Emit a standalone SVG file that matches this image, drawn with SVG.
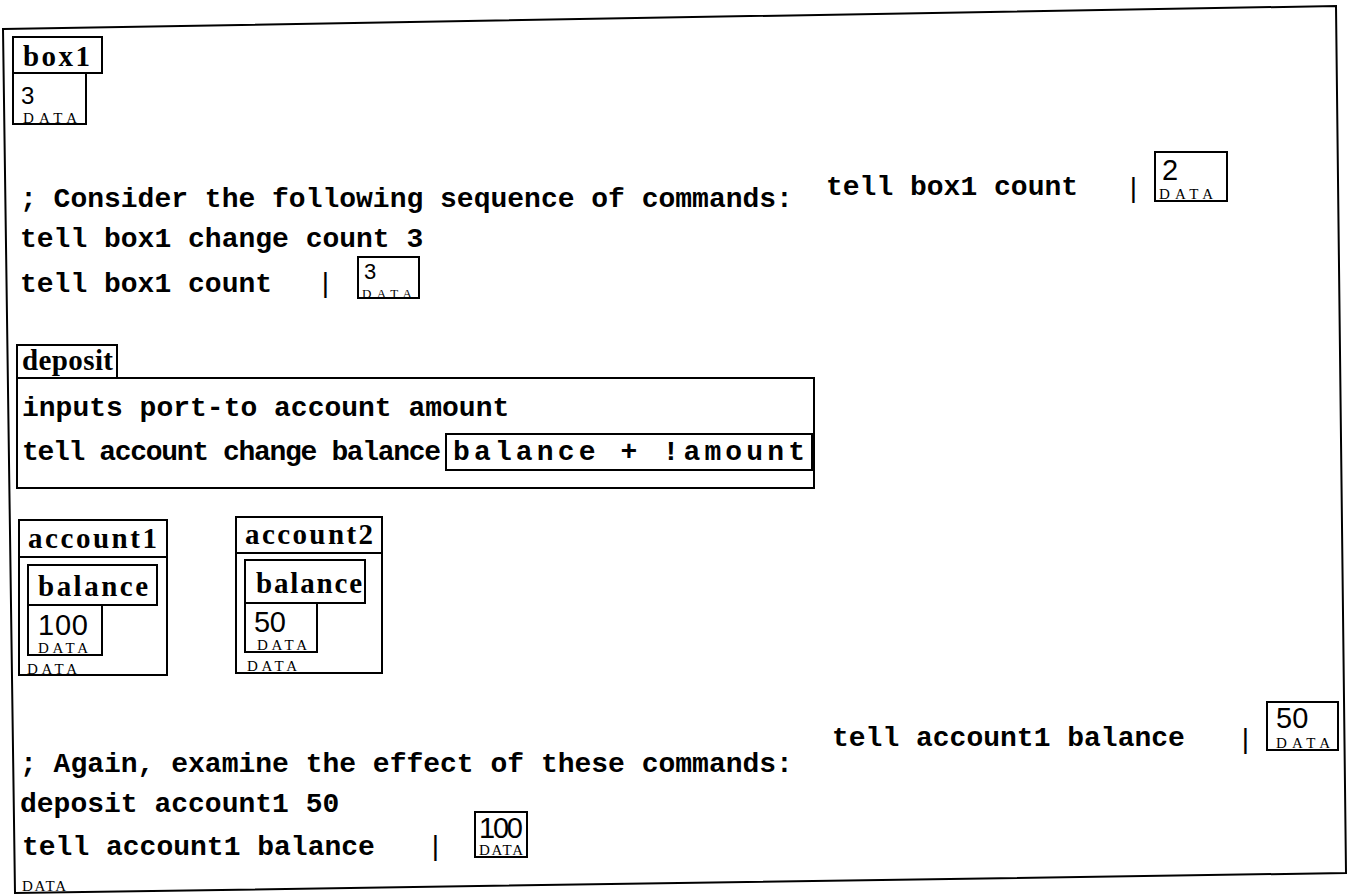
<svg xmlns="http://www.w3.org/2000/svg" width="1348" height="896" viewBox="0 0 1348 896">
<style>
.b{fill:none;stroke:#000;stroke-width:2}
.m{font-family:"Liberation Mono",monospace;font-size:28px;font-weight:bold;fill:#000}
.bar{font-family:"Liberation Mono",monospace;font-size:28px;fill:#000}
.l{font-family:"Liberation Serif",serif;font-size:29px;font-weight:bold;fill:#000}
.n{font-family:"Liberation Sans",sans-serif;font-size:29px;fill:#000}
.s{font-family:"Liberation Sans",sans-serif;font-size:24px;fill:#000}
.d{font-family:"Liberation Serif",serif;font-size:15px;fill:#000}
</style>
<rect width="1348" height="896" fill="#fff"/>
<g id="frame">
<polygon class="b" points="3,29 1336,6 1346,873 15,893"/>
<text class="d" x="22" y="891" textLength="44">DATA</text>
</g>
<g id="box1">
<rect class="b" x="13" y="37" width="89" height="36"/>
<text class="l" x="23" y="66" textLength="67">box1</text>
<rect class="b" x="13" y="73" width="73" height="51"/>
<text class="s" x="21" y="104">3</text>
<text class="d" x="23" y="123" textLength="54">DATA</text>
</g>
<g id="commands1">
<text class="m" x="20" y="207">; Consider the following sequence of commands:</text>
<text class="m" x="826" y="195">tell box1 count</text>
<text class="bar" x="1125" y="197">|</text>
<rect class="b" x="1155" y="152" width="72" height="49"/>
<text class="n" x="1162" y="180">2</text>
<text class="d" x="1159" y="199" textLength="54">DATA</text>
<text class="m" x="20" y="247">tell box1 change count 3</text>
<text class="m" x="20" y="292">tell box1 count</text>
<text class="bar" x="317" y="292">|</text>
<rect class="b" x="358" y="257" width="61" height="41"/>
<text class="n" x="364" y="279" style="font-size:22px">3</text>
<text class="d" x="362" y="298" textLength="50" style="font-size:13px">DATA</text>
</g>
<g id="deposit">
<rect class="b" x="17" y="345" width="100" height="33"/>
<text class="l" x="22" y="370" textLength="91">deposit</text>
<rect class="b" x="17" y="378" width="797" height="110"/>
<text class="m" x="22" y="416">inputs port-to account amount</text>
<text class="m" x="22" y="460" textLength="419">tell account change balance</text>
<rect class="b" x="446" y="434" width="366" height="36"/>
<text class="m" x="453" y="460" textLength="352">balance + !amount</text>
</g>
<g id="account1">
<rect class="b" x="19" y="520" width="148" height="37"/>
<text class="l" x="28" y="548" textLength="129">account1</text>
<rect class="b" x="19" y="557" width="148" height="118"/>
<rect class="b" x="28" y="565" width="129" height="40"/>
<text class="l" x="38" y="596" textLength="110">balance</text>
<rect class="b" x="28" y="605" width="74" height="50"/>
<text class="n" x="38" y="635" textLength="50">100</text>
<text class="d" x="38" y="653" textLength="50">DATA</text>
<text class="d" x="27" y="674" textLength="50">DATA</text>
</g>
<g id="account2">
<rect class="b" x="236" y="517" width="146" height="36"/>
<text class="l" x="245" y="544" textLength="128">account2</text>
<rect class="b" x="236" y="553" width="146" height="120"/>
<rect class="b" x="245" y="560" width="120" height="43"/>
<text class="l" x="256" y="593" textLength="106">balance</text>
<rect class="b" x="245" y="603" width="72" height="49"/>
<text class="n" x="254" y="632" textLength="32">50</text>
<text class="d" x="257" y="650" textLength="50">DATA</text>
<text class="d" x="247" y="671" textLength="50">DATA</text>
</g>
<g id="commands2">
<text class="m" x="20" y="772">; Again, examine the effect of these commands:</text>
<text class="m" x="832" y="746">tell account1 balance</text>
<text class="bar" x="1237" y="748">|</text>
<rect class="b" x="1267" y="702" width="71" height="48"/>
<text class="n" x="1276" y="728">50</text>
<text class="d" x="1276" y="748" textLength="54">DATA</text>
<text class="m" x="20" y="812">deposit account1 50</text>
<text class="m" x="22" y="855">tell account1 balance</text>
<text class="bar" x="427" y="855">|</text>
<rect class="b" x="475" y="812" width="52" height="45"/>
<text class="n" x="479" y="838" textLength="44">100</text>
<text class="d" x="479" y="855" textLength="44">DATA</text>
</g>
</svg>
